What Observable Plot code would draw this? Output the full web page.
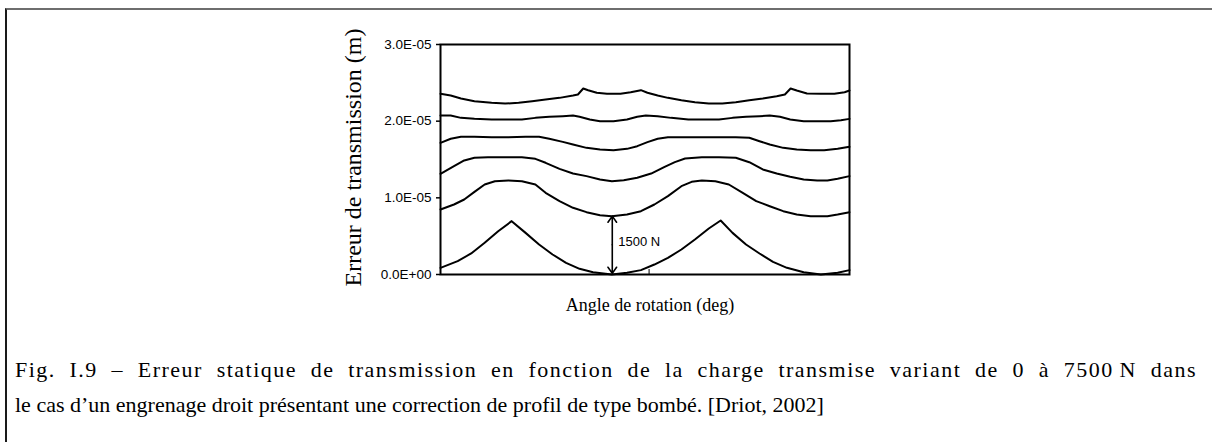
<!DOCTYPE html>
<html><head><meta charset="utf-8">
<script src="https://cdn.jsdelivr.net/npm/d3@7"></script>
<script src="https://cdn.jsdelivr.net/npm/@observablehq/plot@0.6"></script>
<style>
html,body{margin:0;padding:0;background:#fff;width:1212px;height:442px;overflow:hidden;}
#box{position:absolute;left:5px;top:8px;width:1220px;height:450px;border-top:2px solid #6e6e6e;border-left:2px solid #1a1a1a;}
#chart{position:absolute;left:0;top:0;}
#caption{position:absolute;left:15px;top:352px;width:1182px;color:#000;line-height:35px;font-family:"Liberation Serif","Times New Roman",serif;font-size:22px;}
#caption .l1{display:block;text-align:justify;text-align-last:justify;white-space:nowrap;font-family:"Liberation Serif",serif;}
#caption .l2{display:block;white-space:nowrap;font-family:"Liberation Serif",serif;}
#measure{position:absolute;left:0;top:0;visibility:hidden;white-space:nowrap;font-family:"Liberation Serif",serif;font-size:22px;}
</style></head>
<body>
<div id="box"></div>
<div id="chart"></div>
<div id="caption"><div class="l1">Fig. I.9 – Erreur statique de transmission en fonction de la charge transmise variant de 0 à 7500&#8239;N dans</div><div class="l2">le cas d’un engrenage droit présentant une correction de profil de type bombé. [Driot, 2002]</div></div>
<span id="measure"></span>
<script>
// Loads (N)
const loads = [0, 1500, 3000, 4500, 6000, 7500];
// Angle (arbitrary deg units across the window) and transmission error (µm) per load
const angle0 = [0,4.2,7.5,10.8,14.1,17.4,20.8,24.1,27.4,30.7,34.0,37.3,41.9,45.6,49.0,52.3,55.6,58.9,62.2,65.6,68.5,71.4,74.7,78.0,81.3,84.7,88.8,93.0,97.1,100];
const err0   = [0.87,1.74,2.74,4.13,5.65,6.96,5.43,3.91,2.61,1.52,0.74,0.30,0,0.22,0.57,1.30,2.17,3.26,4.57,6.00,7.04,5.43,3.91,2.74,1.65,0.87,0.30,0,0.22,0.57];
const angle1 = [0,3.3,5.8,8.3,10.8,13.3,16.6,19.9,23.2,25.7,29.1,32.4,35.7,39.0,41.9,45.6,49.0,52.3,55.6,58.9,61.4,63.9,67.2,70.5,73.9,77.2,80.5,83.8,87.1,90.5,94.6,97.1,100];
const err1   = [8.48,9.13,9.78,10.78,11.74,12.17,12.26,12.17,11.74,10.65,9.57,8.70,8.13,7.74,7.61,7.83,8.26,9.13,10.22,11.52,12.09,12.26,12.17,11.74,10.65,9.57,8.91,8.26,7.83,7.61,7.61,7.83,8.13];
const angle2 = [0,3.3,5.8,8.3,11.6,15.8,19.9,23.2,25.7,29.1,32.4,35.7,39.0,41.9,44.8,48.1,51.5,54.8,57.3,59.8,63.9,68.1,72.2,75.5,78.8,82.2,85.5,88.8,92.1,94.6,97.1,100];
const err2   = [13.13,14.13,14.87,15.22,15.30,15.30,15.30,15.09,14.57,13.78,13.17,12.83,12.39,12.17,12.30,12.61,13.17,14.04,14.65,15.13,15.30,15.30,15.22,14.65,13.70,13.17,12.74,12.39,12.26,12.26,12.48,12.83];
const angle3 = [0,2.5,5.0,8.3,12.5,16.6,20.8,24.1,26.6,29.9,32.4,35.7,39.0,42.3,45.6,48.1,50.6,53.1,55.6,59.8,63.9,68.1,72.2,75.5,78.0,80.5,83.8,87.1,90.5,93.8,97.1,100];
const err3   = [17.17,17.70,17.96,17.96,17.91,17.91,17.96,17.96,17.70,17.30,16.96,16.52,16.30,16.22,16.39,16.74,17.26,17.70,17.91,17.91,17.91,17.91,17.91,17.83,17.39,16.96,16.52,16.30,16.22,16.22,16.39,16.65];
const angle4 = [0,2.5,5.0,8.3,12.5,16.6,19.9,23.2,26.6,29.9,32.4,34.0,36.5,39.0,42.3,45.6,48.1,50.2,53.1,56.4,60.6,64.7,68.1,71.4,74.7,78.0,80.5,83.0,85.5,88.8,92.1,95.4,97.9,100];
const err4   = [20.74,20.74,20.43,20.30,20.22,20.22,20.22,20.43,20.57,20.65,20.74,20.57,20.22,20.00,20.00,20.22,20.57,20.74,20.65,20.43,20.22,20.22,20.22,20.43,20.57,20.65,20.74,20.57,20.22,20.00,20.00,20.00,20.13,20.30];
const angle5 = [0,2.5,5.0,8.3,12.5,15.8,19.1,22.4,25.7,29.1,32.4,33.6,34.9,36.1,38.2,40.7,44.0,46.5,49.0,50.6,53.1,55.6,58.9,62.2,65.6,68.9,72.2,75.5,78.8,82.2,84.2,85.6,87.1,89.6,93.0,96.3,98.8,100];
const err5   = [23.57,23.35,22.96,22.61,22.39,22.30,22.39,22.61,22.83,23.04,23.35,23.48,24.26,24.04,23.70,23.57,23.57,23.78,24.04,23.70,23.35,23.04,22.74,22.48,22.30,22.30,22.48,22.74,22.96,23.26,23.48,24.26,24.00,23.61,23.57,23.57,23.78,24.00];
// Y ticks (m) and their labels
const yTicks = [0, 1e-5, 2e-5, 3e-5];
const yTickLabels = ["0.0E+00", "1.0E-05", "2.0E-05", "3.0E-05"];
// Annotation: load step arrow (angle, from error µm, to error µm)
const arrowAngle = [42.0];
const arrowTop = [7.61];
const arrowBottom = [0.15];
const arrowText = ["1500 N"];

const angles = [angle0, angle1, angle2, angle3, angle4, angle5];
const errs = [err0, err1, err2, err3, err4, err5];
const rows = [];
loads.forEach((L, k) => angles[k].forEach((a, i) => rows.push({load: L, angle: a, err: errs[k][i] * 1e-6})));
const arrows = arrowAngle.map((a, i) => ({x: a, top: arrowTop[i]*1e-6, bot: arrowBottom[i]*1e-6, mid: (arrowTop[i]+arrowBottom[i])/2*1e-6, label: arrowText[i]}));

const serif = "'Liberation Serif', 'Times New Roman', serif";
const sans = "Arial, 'Liberation Sans', sans-serif";
const chart = Plot.plot({
  width: 1212, height: 330,
  marginLeft: 440, marginRight: 363, marginTop: 44, marginBottom: 56,
  style: {background: "transparent", fontFamily: sans, fontSize: "13px", color: "#000"},
  x: {domain: [0, 100]},
  y: {domain: [0, 3e-5]},
  marks: [
    Plot.axisY({ticks: yTicks, tickFormat: (d, i) => yTickLabels[i], tickSize: 4, tickPadding: 5, label: null, fontSize: 13.5, strokeWidth: 1.5}),
    Plot.axisX({ticks: [51], tickFormat: () => "", tickSize: 5, dy: -5, label: null, strokeWidth: 1}),
    Plot.line(rows, {x: "angle", y: "err", z: "load", stroke: "#000", strokeWidth: 2, curve: "linear"}),
    Plot.arrow(arrows, {x1: "x", x2: "x", y1: "mid", y2: "top", stroke: "#000", strokeWidth: 1.6, headLength: 7, headAngle: 70, bend: 0}),
    Plot.arrow(arrows, {x1: "x", x2: "x", y1: "mid", y2: "bot", stroke: "#000", strokeWidth: 1.6, headLength: 7, headAngle: 70, bend: 0}),
    Plot.text(arrows, {x: "x", y: (d) => 4.2e-6, text: "label", textAnchor: "start", dx: 6, fontSize: 13, fontFamily: sans}),
    Plot.frame({stroke: "#000", strokeWidth: 2}),
    Plot.text(["Erreur de transmission (m)"], {frameAnchor: "left", textAnchor: "middle", dx: -87, dy: -2, rotate: -90, fontSize: 24, fontFamily: serif}),
    Plot.text(["Angle de rotation (deg)"], {frameAnchor: "bottom", textAnchor: "middle", dy: 36, dx: 5, fontSize: 18, fontFamily: serif})
  ]
});
document.getElementById("chart").appendChild(chart);

// Fit caption lines: light letter spacing so line 2 reaches ~800px; line 1 gets moderate spacing, then is justified.
const meas = document.getElementById("measure");
function fitSpacing(el, target) {
  meas.textContent = el.textContent;
  const w = meas.getBoundingClientRect().width;
  const ls = Math.max(0, (target - w) / el.textContent.length);
  el.style.letterSpacing = ls.toFixed(3) + "px";
}
fitSpacing(document.querySelector("#caption .l2"), 800);
fitSpacing(document.querySelector("#caption .l1"), 1060);
</script>
</body></html>
